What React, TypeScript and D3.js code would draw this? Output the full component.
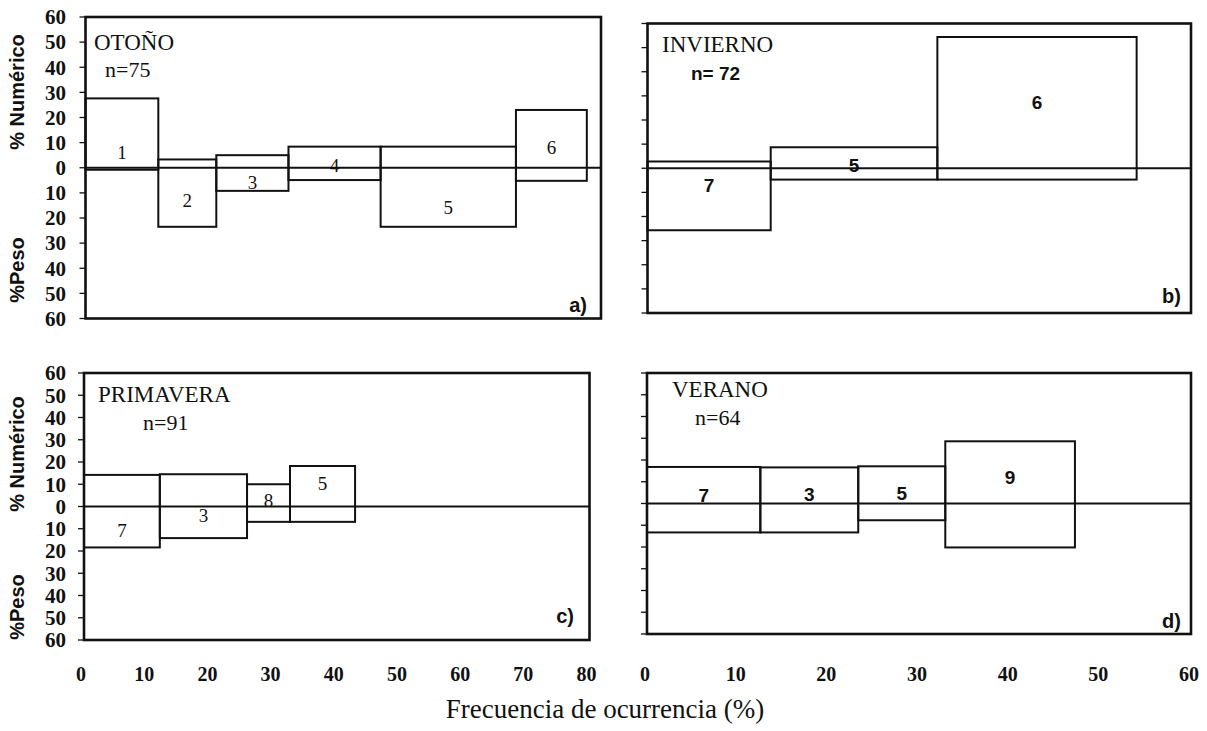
import React from 'react';
import * as d3 from 'd3';

// Panel texts
const seasonNames = ['OTOÑO', 'INVIERNO', 'PRIMAVERA', 'VERANO'];
const sampleSizes = ['n=75', 'n= 72', 'n=91', 'n=64'];
const panelTags = ['a)', 'b)', 'c)', 'd)'];

// a) Otoño: width = % frecuencia, up = % numérico, down = % peso
const otonoPrey = ['1', '2', '3', '4', '5', '6'];
const otonoFreq = [11.3, 9.0, 11.2, 14.3, 21.0, 11.0];
const otonoNum = [27.6, 3.3, 5.0, 8.4, 8.4, 23.0];
const otonoPeso = [0.8, 23.5, 9.2, 4.9, 23.5, 5.2];
const otonoLabelAt = [6.3, -12.9, -5.7, 1.0, -15.7, 8.3];

// b) Invierno
const inviernoPrey = ['7', '5', '6'];
const inviernoFreq = [13.6, 18.4, 22.0];
const inviernoNum = [2.8, 8.7, 54.4];
const inviernoPeso = [25.7, 4.7, 4.7];
const inviernoLabelAt = [-6.9, 1.4, 27.4];

// c) Primavera
const primaveraPrey = ['7', '3', '8', '5'];
const primaveraFreq = [12.0, 13.8, 6.8, 10.3];
const primaveraNum = [14.2, 14.5, 10.0, 18.2];
const primaveraPeso = [18.4, 14.2, 6.9, 6.9];
const primaveraLabelAt = [-10.9, -4.2, 2.6, 10.2];

// d) Verano
const veranoPrey = ['7', '3', '5', '9'];
const veranoFreq = [12.5, 10.8, 9.6, 14.3];
const veranoNum = [16.8, 16.6, 17.1, 28.6];
const veranoPeso = [13.3, 13.3, 7.7, 20.2];
const veranoLabelAt = [3.8, 4.3, 4.7, 12.1];

const xMaxLeft = 80;
const xMaxRight = 60;
const yMax = 60;

const serif = '"Liberation Serif", "Times New Roman", serif';
const sans = '"Liberation Sans", Arial, sans-serif';

type Series = {
  prey: string[];
  freq: number[];
  num: number[];
  peso: number[];
  labelAt: number[];
};

const series: Series[] = [
  { prey: otonoPrey, freq: otonoFreq, num: otonoNum, peso: otonoPeso, labelAt: otonoLabelAt },
  { prey: inviernoPrey, freq: inviernoFreq, num: inviernoNum, peso: inviernoPeso, labelAt: inviernoLabelAt },
  { prey: primaveraPrey, freq: primaveraFreq, num: primaveraNum, peso: primaveraPeso, labelAt: primaveraLabelAt },
  { prey: veranoPrey, freq: veranoFreq, num: veranoNum, peso: veranoPeso, labelAt: veranoLabelAt },
];

// Layout of each box (pixels)
const layout = [
  { left: 85.5, right: 601, top: 17, bottom: 318.5, xMax: xMaxLeft, yLabels: true, labelFont: serif,
    title: [94, 50], n: [105, 77], tag: [587, 312], axisLab: [92, 270] },
  { left: 647.5, right: 1191, top: 23.5, bottom: 313, xMax: xMaxRight, yLabels: false, labelFont: sans,
    title: [662, 52], n: [691, 80], tag: [1181, 303], axisLab: null },
  { left: 84, right: 589.5, top: 373, bottom: 640, xMax: xMaxLeft, yLabels: true, labelFont: serif,
    title: [98, 402], n: [143, 430], tag: [574, 623], axisLab: [454, 607] },
  { left: 647, right: 1191, top: 373, bottom: 634, xMax: xMaxRight, yLabels: false, labelFont: sans,
    title: [672, 397], n: [695, 425], tag: [1181, 628], axisLab: null },
];

function Panel({ idx }: { idx: number }) {
  const L = layout[idx];
  const s = series[idx];
  const x = d3.scaleLinear().domain([0, L.xMax]).range([L.left, L.right]);
  const y = d3.scaleLinear().domain([-yMax, yMax]).range([L.bottom, L.top]);
  const starts = [0, ...Array.from(d3.cumsum(s.freq))];
  const ticks = y.ticks(12);

  return (
    <g>
      {/* y ticks */}
      {ticks.map(t => (
        <line key={'t' + t} x1={L.left - 6} x2={L.left} y1={y(t)} y2={y(t)} stroke="#111" strokeWidth={1.3} />
      ))}
      {L.yLabels &&
        ticks.map(t => (
          <text key={'l' + t} x={66} y={y(t)} dy="0.35em" textAnchor="end"
            fontFamily={serif} fontWeight="bold" fontSize={21} fill="#111">
            {Math.abs(t)}
          </text>
        ))}

      {/* bars */}
      {s.prey.map((p, i) => (
        <rect key={'b' + i}
          x={x(starts[i])} width={x(starts[i + 1]) - x(starts[i])}
          y={y(s.num[i])} height={y(-s.peso[i]) - y(s.num[i])}
          fill="none" stroke="#111" strokeWidth={2} />
      ))}
      {s.prey.map((p, i) => (
        <text key={'p' + i} x={x((starts[i] + starts[i + 1]) / 2)} y={y(s.labelAt[i])} dy="0.35em"
          textAnchor="middle" fontFamily={L.labelFont} fontWeight={L.labelFont === sans ? 'bold' : 'normal'}
          fontSize={19} fill="#111">
          {p}
        </text>
      ))}

      {/* zero line */}
      <line x1={L.left} x2={L.right} y1={y(0)} y2={y(0)} stroke="#111" strokeWidth={2} />

      {/* frame */}
      <rect x={L.left} y={L.top} width={L.right - L.left} height={L.bottom - L.top}
        fill="none" stroke="#111" strokeWidth={2.6} />

      <text x={L.title[0]} y={L.title[1]} fontFamily={serif} fontSize={23} fill="#111">
        {seasonNames[idx]}
      </text>
      <text x={L.n[0]} y={L.n[1]} fontFamily={idx === 1 ? sans : serif} fontWeight={idx === 1 ? 'bold' : 'normal'}
        fontSize={idx === 1 ? 19 : 22} fill="#111">
        {sampleSizes[idx]}
      </text>
      <text x={L.tag[0]} y={L.tag[1]} textAnchor="end" fontFamily={sans} fontWeight="bold" fontSize={20} fill="#111">
        {panelTags[idx]}
      </text>

      {L.axisLab && (
        <g fontFamily={sans} fontWeight="bold" fontSize={20} fill="#111">
          <text transform={`translate(17,${L.axisLab[0]}) rotate(-90)`} textAnchor="middle" dy="0.35em">
            % Numérico
          </text>
          <text transform={`translate(17,${L.axisLab[1]}) rotate(-90)`} textAnchor="middle" dy="0.35em">
            %Peso
          </text>
        </g>
      )}
    </g>
  );
}

function XLabels({ idx, dx }: { idx: number; dx: number }) {
  const L = layout[idx];
  const x = d3.scaleLinear().domain([0, L.xMax]).range([L.left, L.right]);
  return (
    <g>
      {x.ticks(L.xMax / 10).map(t => (
        <text key={t} x={x(t) + dx} y={681} textAnchor="middle" fontFamily={serif} fontWeight="bold"
          fontSize={20} fill="#111">
          {t}
        </text>
      ))}
    </g>
  );
}

export default function App() {
  return (
    <svg width={1207} height={731} style={{ position: 'absolute', left: 0, top: 0, background: '#fff' }}>
      <rect width={1207} height={731} fill="#fff" />
      {[0, 1, 2, 3].map(i => (
        <Panel key={i} idx={i} />
      ))}
      <XLabels idx={2} dx={-3} />
      <XLabels idx={3} dx={-2} />
      <text x={605} y={718} textAnchor="middle" fontFamily={serif} fontSize={27} fill="#111">
        Frecuencia de ocurrencia (%)
      </text>
    </svg>
  );
}
